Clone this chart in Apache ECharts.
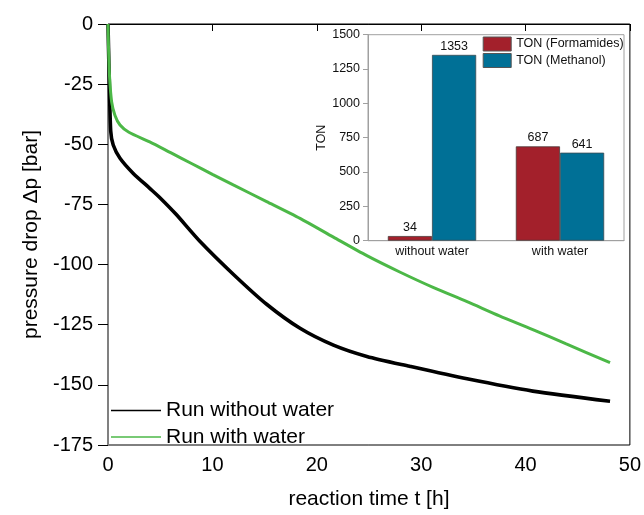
<!DOCTYPE html>
<html>
<head>
<meta charset="utf-8">
<script src="https://cdn.jsdelivr.net/npm/echarts@6/dist/echarts.min.js"></script>
<style>
html,body{margin:0;padding:0;background:#fff;}
#chart{width:644px;height:515px;}
</style>
</head>
<body>
<div id="chart"></div>
<script>
// Main chart: pressure drop curves
const timeWithout = [0, 0.05, 0.12, 0.26, 0.5, 1.15, 2.4, 4.0, 5.0, 6.5, 8.8, 12.0, 15.2, 18.4, 21.6, 24.8, 28.9, 34.4, 40.7, 48.1];
const dpWithout   = [0, -10, -23, -44.5, -50.3, -55.8, -62, -68.3, -72.3, -79, -90.3, -104, -116.5, -126.5, -133.5, -138.2, -142.3, -147.5, -152.6, -156.8];
const timeWith = [0, 0.05, 0.15, 0.35, 0.67, 1.15, 2.0, 4.0, 6.0, 8.0, 10.0, 12.0, 15.2, 18.4, 21.6, 24.8, 28.0, 31.2, 34.4, 37.5, 40.7, 43.9, 48.1];
const dpWith   = [0, -10, -22, -32.4, -38, -42, -45, -49, -53.5, -58, -62.5, -66.9, -73.8, -80.8, -88.6, -96.3, -103.2, -109.6, -115.4, -121.3, -127, -133, -140.8];
const xTicks = [0, 10, 20, 30, 40, 50];
const yTicks = [-175, -150, -125, -100, -75, -50, -25, 0];

// Inset: TON bar chart
const insetCategories = ['without water', 'with water'];
const tonFormamides = [34, 687];
const tonMethanol = [1353, 641];

const FONT = '"Liberation Sans", Arial, sans-serif';
const toPairs = (xs, ys) => xs.map((x, i) => [x, ys[i]]);

const chart = echarts.init(document.getElementById('chart'), null, {renderer: 'canvas'});
chart.setOption({
  animation: false,
  textStyle: {fontFamily: FONT},
  grid: [
    {left: 108, top: 24, width: 523, height: 424, show: true, borderColor: '#000', borderWidth: 1, backgroundColor: 'transparent'},
    {left: 368, top: 34.7, width: 256, height: 206, show: true, borderColor: '#a0a0a0', borderWidth: 1, backgroundColor: '#fff'}
  ],
  legend: [
    {
      data: ['Run without water', 'Run with water'],
      orient: 'vertical', left: 111, top: 400, padding: 0,
      itemWidth: 50, itemHeight: 1.3, itemGap: 5.5, icon: 'rect',
      textStyle: {fontSize: 21, color: '#000', fontFamily: FONT}
    },
    {
      data: ['TON (Formamides)', 'TON (Methanol)'],
      orient: 'vertical', left: 482.7, top: 36.5, padding: 0,
      itemWidth: 28, itemHeight: 14, itemGap: 1.5, icon: 'rect',
      itemStyle: {borderColor: '#555', borderWidth: 1},
      textStyle: {fontSize: 12.5, color: '#111', fontFamily: FONT}
    }
  ],
  xAxis: [
    {
      type: 'value', gridIndex: 0, min: 0, max: 50, interval: 10,
      name: 'reaction time t [h]', nameLocation: 'middle', nameGap: 44,
      nameTextStyle: {fontSize: 21, color: '#000'},
      axisLine: {lineStyle: {color: '#000', width: 1}},
      axisTick: {show: true, inside: false, length: 7, lineStyle: {color: '#000'}},
      axisLabel: {fontSize: 20, color: '#000', margin: 10, formatter: v => xTicks.includes(v) ? String(v) : ''},
      splitLine: {show: false}
    },
    {
      type: 'category', gridIndex: 1, data: insetCategories,
      axisLine: {lineStyle: {color: '#a0a0a0'}},
      axisTick: {show: false},
      axisLabel: {fontSize: 12.5, color: '#111', margin: 4},
      splitLine: {show: false}
    }
  ],
  yAxis: [
    {
      type: 'value', gridIndex: 0, min: -175, max: 0, interval: 25,
      name: 'pressure drop \u0394p [bar]', nameLocation: 'middle', nameGap: 66,
      nameTextStyle: {fontSize: 21, color: '#000'},
      axisLine: {show: true, lineStyle: {color: '#808080', width: 1}},
      axisTick: {show: true, inside: false, length: 10, lineStyle: {color: '#000'}},
      axisLabel: {fontSize: 20, color: '#000', margin: 15, formatter: v => yTicks.includes(v) ? String(v) : ''},
      splitLine: {show: false}
    },
    {
      type: 'value', gridIndex: 1, min: 0, max: 1500, interval: 250,
      name: 'TON', nameLocation: 'middle', nameGap: 40,
      nameTextStyle: {fontSize: 12.5, color: '#111'},
      axisLine: {show: true, lineStyle: {color: '#a0a0a0'}},
      axisTick: {show: true, inside: false, length: 5, lineStyle: {color: '#a0a0a0'}},
      axisLabel: {fontSize: 12.5, color: '#111', margin: 8, formatter: v => String(v)},
      splitLine: {show: false}
    }
  ],
  series: [
    {
      name: 'Run without water', type: 'line', xAxisIndex: 0, yAxisIndex: 0,
      data: toPairs(timeWithout, dpWithout), showSymbol: false, symbol: 'none',
      smooth: 0.25,
      lineStyle: {color: '#000', width: 3.6}, itemStyle: {color: '#000'}, z: 3
    },
    {
      name: 'Run with water', type: 'line', xAxisIndex: 0, yAxisIndex: 0,
      data: toPairs(timeWith, dpWith), showSymbol: false, symbol: 'none',
      smooth: 0.25,
      lineStyle: {color: '#4cb847', width: 3}, itemStyle: {color: '#4cb847'}, z: 3
    },
    {
      name: 'TON (Formamides)', type: 'bar', xAxisIndex: 1, yAxisIndex: 1,
      data: tonFormamides, barGap: '0%', barCategoryGap: '31%',
      itemStyle: {color: '#a3202b', borderColor: '#4a3a3a', borderWidth: 0.8},
      label: {show: true, position: 'top', distance: 2, fontSize: 12.5, color: '#111'}, z: 5
    },
    {
      name: 'TON (Methanol)', type: 'bar', xAxisIndex: 1, yAxisIndex: 1,
      data: tonMethanol, barGap: '0%', barCategoryGap: '31%',
      itemStyle: {color: '#007096', borderColor: '#3a4a50', borderWidth: 0.8},
      label: {show: true, position: 'top', distance: 2, fontSize: 12.5, color: '#111'}, z: 5
    }
  ]
});
</script>
</body>
</html>
